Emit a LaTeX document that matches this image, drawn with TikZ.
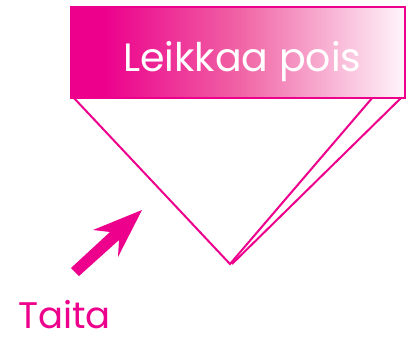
\documentclass[tikz,border=0pt]{standalone}
\usepackage{fontspec}
\setmainfont{Poppins}
\definecolor{mag}{HTML}{EC008C}
\definecolor{midpink}{HTML}{F062A4}
\pgfdeclarehorizontalshading{pinkfade}{100bp}{color(0bp)=(mag); color(30bp)=(mag); color(50bp)=(midpink); color(75bp)=(white!96!mag); color(100bp)=(white!96!mag)}
\begin{document}
\begin{tikzpicture}[x=1pt,y=-1pt,
  fold/.style={draw=mag,line width=2pt,line join=miter},
  lbl/.style={inner sep=0pt,anchor=base west}]
\useasboundingbox (0,0) rectangle (409,338);
% triangle lines
\coordinate (tl) at (73,97);
\coordinate (apex) at (230,264);
\coordinate (trA) at (373,97);
\coordinate (trB) at (402,97);
\coordinate (apexB) at (232,264);
\draw[fold] (tl) -- (apex) -- (trA);
\draw[fold] (apexB) -- (trB);
% banner
\node[draw=mag,line width=2.2pt,shading=pinkfade,minimum width=334pt,minimum height=91pt,inner sep=0pt,anchor=north west] (banner) at (69.5,6) {};
\node[lbl,text=white,font=\fontsize{39.5}{40}\selectfont] (cut) at (123,71) {Leikkaa pois};
% arrow
\fill[mag] (71,268) -- (110,232) -- (93,230) -- (142,210) -- (118,257) -- (119,240) -- (79,276) -- cycle;
\node[lbl,text=mag,font=\fontsize{37}{37}\selectfont] (fold) at (18,328) {Taita};
\end{tikzpicture}
\end{document}
